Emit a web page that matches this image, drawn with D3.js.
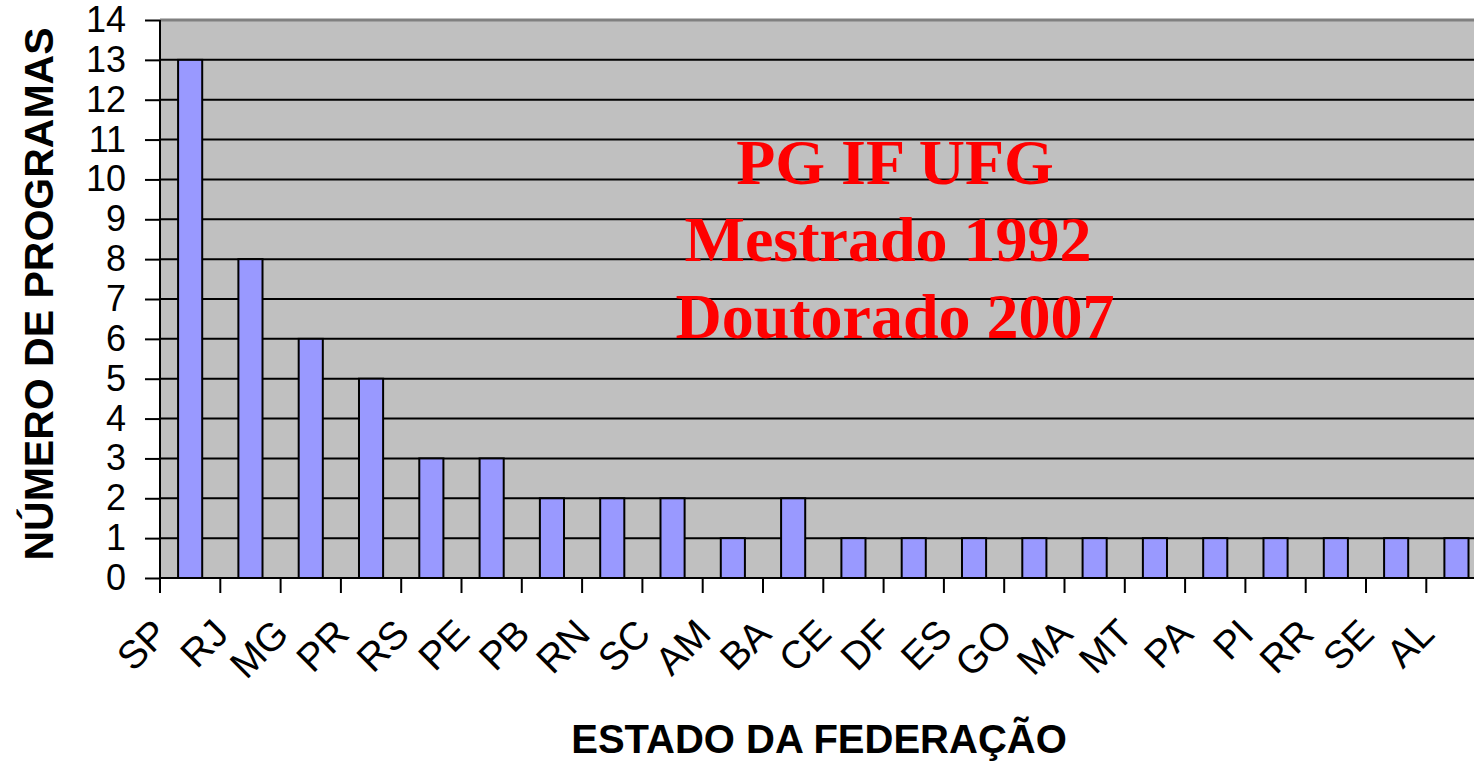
<!DOCTYPE html>
<meta charset="utf-8">
<title>Número de programas por estado</title>
<script src="https://d3js.org/d3.v7.min.js"></script>
<style>
body { margin: 0; background: #fff; }
svg { display: block; font-family: "Liberation Sans", Arial, sans-serif; }
.axis path { display: none; }
.axis text { font-family: "Liberation Sans", Arial, sans-serif; fill: #000; }
</style>
<body>
<div id="vis"></div>
<script>

// states and number of graduate programs per state
var states = ["SP", "RJ", "MG", "PR", "RS", "PE", "PB", "RN", "SC", "AM", "BA",
              "CE", "DF", "ES", "GO", "MA", "MT", "PA", "PI", "RR", "SE", "AL"];
var programs = [13, 8, 6, 5, 3, 3, 2, 2, 2, 1, 2, 1, 1, 1, 1, 1, 1, 1, 1, 1, 1, 1];
var yTicks = d3.range(0, 15);
var note = ["PG IF UFG", "Mestrado 1992", "Doutorado 2007"];

var width = 1474, height = 763;
var plotLeft = 160, plotTop = 20, plotBottom = 578;
var step = 60.3;

var data = states.map(function(s, i) { return {state: s, value: programs[i]}; });

var svg = d3.select("#vis").append("svg")
  .attr("width", width)
  .attr("height", height);

var x = d3.scaleBand()
  .domain(states)
  .range([plotLeft, plotLeft + step * states.length])
  .paddingInner(0.6)
  .paddingOuter(0.3);

var y = d3.scaleLinear()
  .domain([0, 14])
  .range([plotBottom, plotTop]);

var plotRight = plotLeft + step * states.length;

// plot background
svg.append("rect")
  .attr("x", plotLeft)
  .attr("y", plotTop)
  .attr("width", plotRight - plotLeft)
  .attr("height", plotBottom - plotTop)
  .style("fill", "#c0c0c0");

// gridlines
svg.selectAll(".grid")
  .data(yTicks.filter(function(d) { return d > 0 && d < 14; }))
  .enter().append("line")
  .attr("x1", plotLeft)
  .attr("x2", plotRight)
  .attr("y1", function(d) { return y(d); })
  .attr("y2", function(d) { return y(d); })
  .style("stroke", "#000")
  .style("stroke-width", 2);

// top border of plot area
svg.append("line")
  .attr("x1", plotLeft).attr("x2", plotRight)
  .attr("y1", y(14)).attr("y2", y(14))
  .style("stroke", "#808080")
  .style("stroke-width", 3);

// red note
svg.append("g").selectAll("text")
  .data(note)
  .enter().append("text")
  .attr("x", function(d, i) { return i === 1 ? 888 : 895; })
  .attr("y", function(d, i) { return 184 + i * 77; })
  .attr("text-anchor", "middle")
  .style("font-family", "'Liberation Serif', 'Times New Roman', serif")
  .style("font-weight", "bold")
  .style("font-size", "64px")
  .style("fill", "#ff0000")
  .text(function(d) { return d; });

// bars
svg.selectAll(".bar")
  .data(data)
  .enter().append("rect")
  .attr("class", "bar")
  .attr("x", function(d) { return x(d.state); })
  .attr("y", function(d) { return y(d.value); })
  .attr("width", x.bandwidth())
  .attr("height", function(d) { return y(0) - y(d.value); })
  .style("fill", "#9999ff")
  .style("stroke", "#000")
  .style("stroke-width", 2);

// y axis
var yAxis = svg.append("g")
  .attr("class", "axis")
  .attr("transform", "translate(" + plotLeft + ",0)")
  .call(d3.axisLeft(y).tickValues(yTicks).tickSize(15).tickSizeOuter(0).tickPadding(19));
yAxis.selectAll("line").style("stroke", "#000").style("stroke-width", 2);
yAxis.selectAll("text").style("font-size", "36px");

svg.append("line")
  .attr("x1", plotLeft).attr("x2", plotLeft)
  .attr("y1", plotTop).attr("y2", plotBottom)
  .style("stroke", "#000")
  .style("stroke-width", 2);

// x axis
svg.append("line")
  .attr("x1", plotLeft).attr("x2", plotRight)
  .attr("y1", plotBottom).attr("y2", plotBottom)
  .style("stroke", "#000")
  .style("stroke-width", 2);

svg.selectAll(".xtick")
  .data(d3.range(0, states.length + 1))
  .enter().append("line")
  .attr("x1", function(i) { return plotLeft + i * x.step(); })
  .attr("x2", function(i) { return plotLeft + i * x.step(); })
  .attr("y1", plotBottom)
  .attr("y2", plotBottom + 15)
  .style("stroke", "#000")
  .style("stroke-width", 2);

svg.selectAll(".xlabel")
  .data(states)
  .enter().append("text")
  .attr("transform", function(d) {
    return "translate(" + (x(d) + x.bandwidth() / 2 - 20) + "," + (plotBottom + 58) + ") rotate(-45)";
  })
  .attr("text-anchor", "end")
  .style("font-size", "39px")
  .text(function(d) { return d; });

// axis titles
svg.append("text")
  .attr("transform", "translate(53,294) rotate(-90)")
  .attr("text-anchor", "middle")
  .style("font-weight", "bold")
  .style("font-size", "41px")
  .text("NÚMERO DE PROGRAMAS");

svg.append("text")
  .attr("x", 819)
  .attr("y", 753)
  .attr("text-anchor", "middle")
  .style("font-weight", "bold")
  .style("font-size", "40px")
  .text("ESTADO DA FEDERAÇÃO");

</script>
</body>
